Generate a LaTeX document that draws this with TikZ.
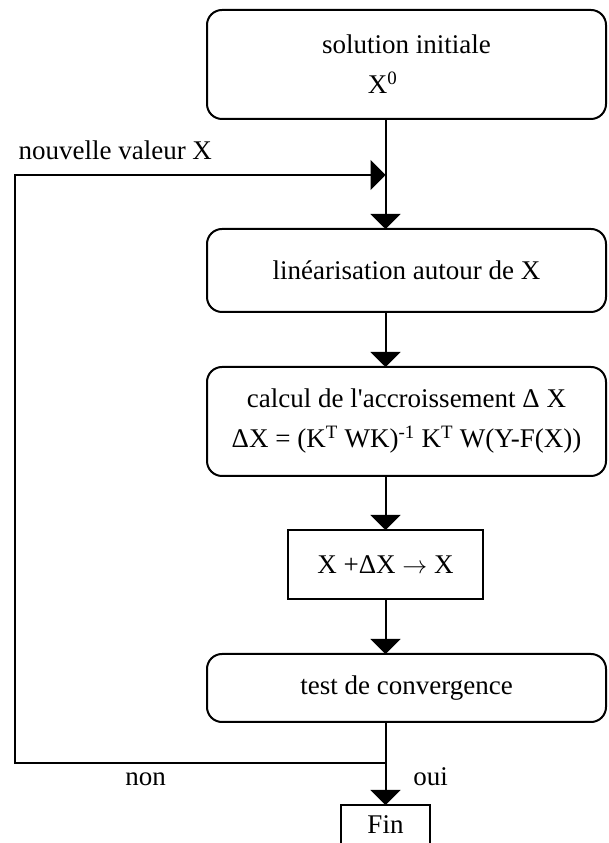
\documentclass[tikz,border=0pt]{standalone}
\usepackage{fontspec}
\setmainfont{Liberation Serif}[Ligatures=TeXOff]
\usepackage{tikz}
\usetikzlibrary{arrows.meta,positioning,calc}
\tikzstyle{block} = [rectangle, draw, line width=2pt, outer sep=0pt, align=center, rounded corners=15pt, minimum width=399pt]
\tikzstyle{square} = [rectangle, draw, line width=2pt, outer sep=0pt, align=center]
\tikzstyle{line} = [draw, line width=2pt, -{Triangle[length=15pt,width=30pt]}]
\tikzstyle{wire} = [draw, line width=2pt]

\begin{document}
\begin{tikzpicture}[x=1pt, y=1pt, node distance=0cm, font=\fontsize{27}{40}\selectfont]
\useasboundingbox (0,0) rectangle (608,843);

\node [block, minimum height=109pt] (init) at (406.5,778.5) {solution initiale\\X\textsuperscript{0}\hspace*{48pt}};
\node [block, minimum height=83pt, below=110pt of init] (lin) {linéarisation autour de X};
\node [block, minimum height=109pt, below=55pt of lin] (calc) {calcul de l'accroissement Δ X\\ΔX = (K\textsuperscript{T} WK)\textsuperscript{-1} K\textsuperscript{T} W(Y-F(X))};
\node [square, minimum width=195pt, minimum height=69pt, below=54pt of calc, xshift=-21pt] (upd) {X +ΔX $\rightarrow$ X};
\node [block, minimum height=68pt, below=55pt of upd, xshift=21pt] (conv) {test de convergence};
\node [square, minimum width=89pt, minimum height=40pt, below=83pt of conv, xshift=-21pt] (fin) {Fin};

\coordinate (split) at ($(fin.north)+(0,42)$);
\coordinate (left) at (15,668);
\coordinate (join) at (upd |- left);

\node [anchor=base west] (newval) at ($(left)+(0,15)$) {nouvelle valeur X};
\node [anchor=base] (no) at ($(split)+(-240,-23)$) {non};
\node [anchor=base] (yes) at ($(split)+(45,-23)$) {oui};

\path [line] (init.south -| upd) -- (lin.north -| upd);
\path [line] (lin.south -| upd) -- (calc.north -| upd);
\path [line] (calc.south -| upd) -- (upd.north);
\path [line] (upd.south) -- (conv.north -| upd);
\path [wire] (conv.south -| fin) -- (split);
\path [line] (split) -- (fin.north);
\path [line] (split) -| (left) -- (join);

\end{tikzpicture}
\end{document}
